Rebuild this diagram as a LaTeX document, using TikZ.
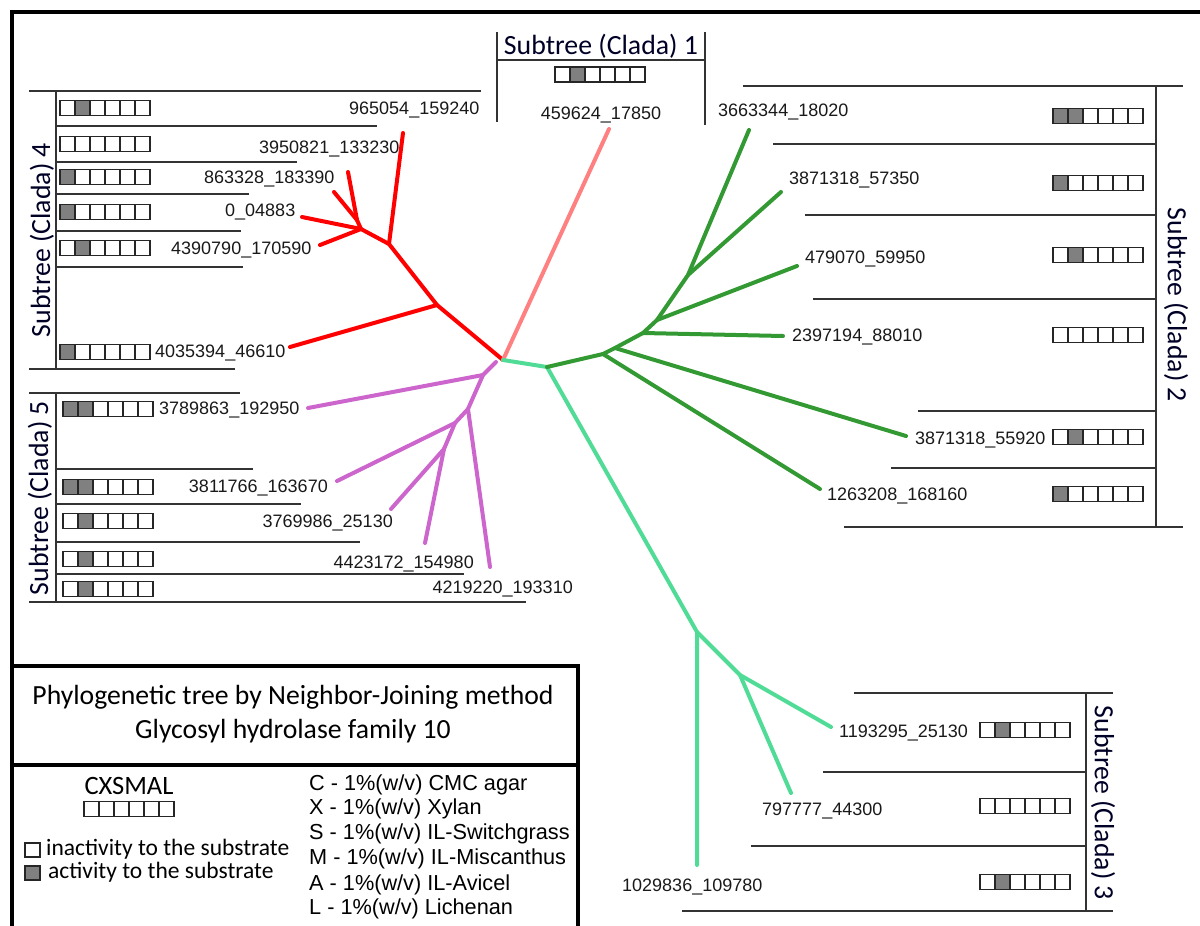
\documentclass[tikz,border=0pt]{standalone}
\usepackage{fontspec}
\setmainfont{Carlito}
\newfontfamily\arialf{Liberation Sans}
\definecolor{tred}{HTML}{FF0000}
\definecolor{tpink}{HTML}{FF8080}
\definecolor{tpurple}{HTML}{CC66CC}
\definecolor{tgreen}{HTML}{339933}
\definecolor{tteal}{HTML}{50DC96}
\definecolor{actgray}{HTML}{808080}
\definecolor{linegray}{HTML}{333333}
\tikzset{
  br/.style={line width=4pt, line cap=round, line join=round},
  frm/.style={line width=1.4pt, draw=linegray},
  lbl/.style={font=\arialf\fontsize{18}{20}\selectfont, inner sep=0pt, text height=13pt, text depth=0pt, text=black!90},
  sub/.style={font=\fontsize{27.8}{32}\selectfont, inner sep=0pt, text=black!85!blue},
  leg/.style={font=\fontsize{23.5}{26}\selectfont, inner sep=0pt},
  legr/.style={font=\arialf\fontsize{21.7}{24}\selectfont, inner sep=0pt, anchor=west},
  cell/.style={draw=black!85, line width=1.2pt},
}
\newcommand\cellrow[3]{%
  \foreach \v [count=\i] in {#3} {%
    \ifnum\v=1 \def\cc{actgray}\else\def\cc{white}\fi
    \draw[cell, fill=\cc] ({#1+(\i-1)*15},{#2-7.5}) rectangle ++(15,15);
  }}
\begin{document}
\begin{tikzpicture}[x=1pt,y=-1pt]
\useasboundingbox (0,0) rectangle (1200,926);
% outer frame
\draw[line width=4pt] (10,12) -- (1205,12);
\draw[line width=4pt] (12,10) -- (12,935);
% legend box
\draw[line width=3.5pt] (12,666) rectangle (578,940);
\draw[line width=3.5pt] (12,765) -- (578,765);
\node[leg, font=\fontsize{27.7}{32}\selectfont] (t1) at (293,697) {Phylogenetic tree by Neighbor-Joining method};
\node[leg, font=\fontsize{27.7}{32}\selectfont] (t2) at (293,731) {Glycosyl hydrolase family 10};
\node[leg, font=\fontsize{26.5}{30}\selectfont] (cx) at (129,786) {CXSMAL};
\cellrow{84}{809}{0,0,0,0,0,0}
\draw[cell] (25,843) rectangle (40,857);
\draw[cell, fill=actgray] (25,866) rectangle (40,880);
\node[leg, anchor=west] (in) at (46,849) {inactivity to the substrate};
\node[leg, anchor=west] (ac) at (48,872) {activity to the substrate};
\node[legr] (lc) at (309,785) {C - 1\%(w/v) CMC agar};
\node[legr] (lx) at (309,809) {X - 1\%(w/v) Xylan};
\node[legr] (ls) at (309,834) {S - 1\%(w/v) IL-Switchgrass};
\node[legr] (lm) at (309,859) {M - 1\%(w/v) IL-Miscanthus};
\node[legr] (la) at (309,885) {A - 1\%(w/v) IL-Avicel};
\node[legr] (ll) at (309,909) {L - 1\%(w/v) Lichenan};

% ---------- subtree 4 ----------
\draw[frm] (29,91) -- (481,91);
\draw[frm] (56,91) -- (56,369);
\draw[frm] (29,369) -- (235,369);
\draw[frm] (56,126) -- (377,126);
\draw[frm] (56,162) -- (297,162);
\draw[frm] (56,194) -- (249,194);
\draw[frm] (56,231) -- (241,231);
\draw[frm] (56,267) -- (243,267);
\node[sub, rotate=90] (s4) at (42,240) {Subtree (Clada) 4};
\cellrow{60}{108}{0,1,0,0,0,0}
\cellrow{60}{144}{0,0,0,0,0,0}
\cellrow{60}{177}{1,0,0,0,0,0}
\cellrow{60}{212}{1,0,0,0,0,0}
\cellrow{60}{248}{0,1,0,0,0,0}
\cellrow{60}{352}{1,0,0,0,0,0}
\node[lbl, anchor=west] (n965) at (349,108) {965054\_159240};
\node[lbl, anchor=west] (n395) at (259,147) {3950821\_133230};
\node[lbl, anchor=west] (n863) at (204,177) {863328\_183390};
\node[lbl, anchor=west] (n004) at (225,210) {0\_04883};
\node[lbl, anchor=west] (n439) at (171,248) {4390790\_170590};
\node[lbl, anchor=west] (n403) at (155,351) {4035394\_46610};

% ---------- subtree 5 ----------
\draw[frm] (29,393) -- (240,393);
\draw[frm] (56,393) -- (56,602);
\draw[frm] (29,602) -- (526,602);
\draw[frm] (56,469) -- (253,469);
\draw[frm] (56,504) -- (301,504);
\draw[frm] (56,542) -- (360,542);
\draw[frm] (56,574) -- (464,574);
\node[sub, rotate=90] (s5) at (40,498) {Subtree (Clada) 5};
\cellrow{63}{409}{1,1,0,0,0,0}
\cellrow{63}{487}{1,1,0,0,0,0}
\cellrow{63}{521}{0,1,0,0,0,0}
\cellrow{63}{559}{0,1,0,0,0,0}
\cellrow{63}{589}{0,1,0,0,0,0}
\node[lbl, anchor=west] (n378) at (159,408) {3789863\_192950};
\node[lbl, anchor=east] (n381) at (328,486) {3811766\_163670};
\node[lbl, anchor=east] (n376) at (393,521) {3769986\_25130};
\node[lbl, anchor=east] (n442) at (474,562) {4423172\_154980};
\node[lbl, anchor=east] (n421) at (573,587) {4219220\_193310};

% ---------- subtree 1 ----------
\draw[frm] (497,32) -- (497,122);
\draw[frm] (705,32) -- (705,125);
\draw[frm] (497,60) -- (705,60);
\node[sub] (s1) at (601,46) {Subtree (Clada) 1};
\cellrow{555}{74.5}{0,1,0,0,0,0}
\node[lbl] (n459) at (601,113) {459624\_17850};

% ---------- subtree 2 ----------
\draw[frm] (743,86) -- (1183,86);
\draw[frm] (1156,86) -- (1156,527);
\draw[frm] (844,527) -- (1183,527);
\draw[frm] (773,144) -- (1156,144);
\draw[frm] (805,215) -- (1156,215);
\draw[frm] (813,299) -- (1156,299);
\draw[frm] (918,411) -- (1156,411);
\draw[frm] (891,468) -- (1156,468);
\node[sub, rotate=-90] (s2) at (1176,305) {Subtree (Clada) 2};
\cellrow{1053}{116}{1,1,0,0,0,0}
\cellrow{1053}{183}{1,0,0,0,0,0}
\cellrow{1053}{255}{0,1,0,0,0,0}
\cellrow{1053}{335}{0,0,0,0,0,0}
\cellrow{1053}{437}{0,1,0,0,0,0}
\cellrow{1053}{494}{1,0,0,0,0,0}
\node[lbl, anchor=west] (n366) at (718,110) {3663344\_18020};
\node[lbl, anchor=west] (n387a) at (789,178) {3871318\_57350};
\node[lbl, anchor=west] (n479) at (805,257) {479070\_59950};
\node[lbl, anchor=west] (n239) at (792,335) {2397194\_88010};
\node[lbl, anchor=west] (n387b) at (915,438) {3871318\_55920};
\node[lbl, anchor=west] (n126) at (827,494) {1263208\_168160};

% ---------- subtree 3 ----------
\draw[frm] (854,693) -- (1113,693);
\draw[frm] (1086,693) -- (1086,911);
\draw[frm] (682,911) -- (1113,911);
\draw[frm] (823,772) -- (1086,772);
\draw[frm] (751,846) -- (1086,846);
\node[sub, rotate=-90] (s3) at (1103,803) {Subtree (Clada) 3};
\cellrow{980}{730}{0,1,0,0,0,0}
\cellrow{980}{806}{0,0,0,0,0,0}
\cellrow{980}{882}{0,1,0,0,0,0}
\node[lbl, anchor=west] (n119) at (839,731) {1193295\_25130};
\node[lbl, anchor=west] (n797) at (762,809) {797777\_44300};
\node[lbl, anchor=west] (n102) at (622,885) {1029836\_109780};

% ---------- tree ----------
\coordinate (C) at (503,360);
% red
\coordinate (R1) at (437,305);
\coordinate (R2) at (389,244);
\coordinate (R3) at (361,229);
\coordinate (R4) at (357,220);
\coordinate (rL1) at (290,347);
\coordinate (rL2) at (403,133);
\coordinate (rL3) at (320,245);
\coordinate (rL4) at (302,217);
\coordinate (rL5) at (348,172);
\coordinate (rL6) at (334,192);
\draw[br, tred] (C) -- (R1) -- (R2) -- (R3) -- (R4);
\draw[br, tred] (R1) -- (rL1);
\draw[br, tred] (R2) -- (rL2);
\draw[br, tred] (R3) -- (rL3);
\draw[br, tred] (R3) -- (rL4);
\draw[br, tred] (R4) -- (rL5);
\draw[br, tred] (R4) -- (rL6);
% pink
\coordinate (pkL) at (609,129);
\draw[br, tpink] (C) -- (pkL);
% purple
\coordinate (P0) at (496,362);
\coordinate (P1) at (483,375);
\coordinate (P2) at (468,409);
\coordinate (P3) at (455,423);
\coordinate (P4) at (444,449);
\coordinate (pL1) at (308,408);
\coordinate (pL2) at (490,567);
\coordinate (pL3) at (337,481);
\coordinate (pL4) at (391,509);
\coordinate (pL5) at (425,543);
\draw[br, tpurple] (P0) -- (P1) -- (P2) -- (P3) -- (P4);
\draw[br, tpurple] (P1) -- (pL1);
\draw[br, tpurple] (P2) -- (pL2);
\draw[br, tpurple] (P3) -- (pL3);
\draw[br, tpurple] (P4) -- (pL4);
\draw[br, tpurple] (P4) -- (pL5);
% teal
\coordinate (T1) at (547,367);
\coordinate (T2) at (697,632);
\coordinate (T3) at (740,675);
\coordinate (tL1) at (697,865);
\coordinate (tL2) at (831,727);
\coordinate (tL3) at (791,793);
\draw[br, tteal] (C) -- (T1) -- (T2) -- (tL1);
\draw[br, tteal] (T2) -- (T3) -- (tL2);
\draw[br, tteal] (T3) -- (tL3);
% green
\coordinate (G1) at (603,354);
\coordinate (G2) at (615,348);
\coordinate (G3) at (643,333);
\coordinate (G4) at (657,320);
\coordinate (G5) at (688,275);
\coordinate (gL1) at (749,130);
\coordinate (gL2) at (781,192);
\coordinate (gL3) at (797,266);
\coordinate (gL4) at (783,336);
\coordinate (gL5) at (906,436);
\coordinate (gL6) at (820,489);
\draw[br, tgreen] (T1) -- (G1) -- (G2) -- (G3) -- (G4) -- (G5) -- (gL1);
\draw[br, tgreen] (G5) -- (gL2);
\draw[br, tgreen] (G4) -- (gL3);
\draw[br, tgreen] (G3) -- (gL4);
\draw[br, tgreen] (G2) -- (gL5);
\draw[br, tgreen] (G1) -- (gL6);
\end{tikzpicture}
\end{document}
